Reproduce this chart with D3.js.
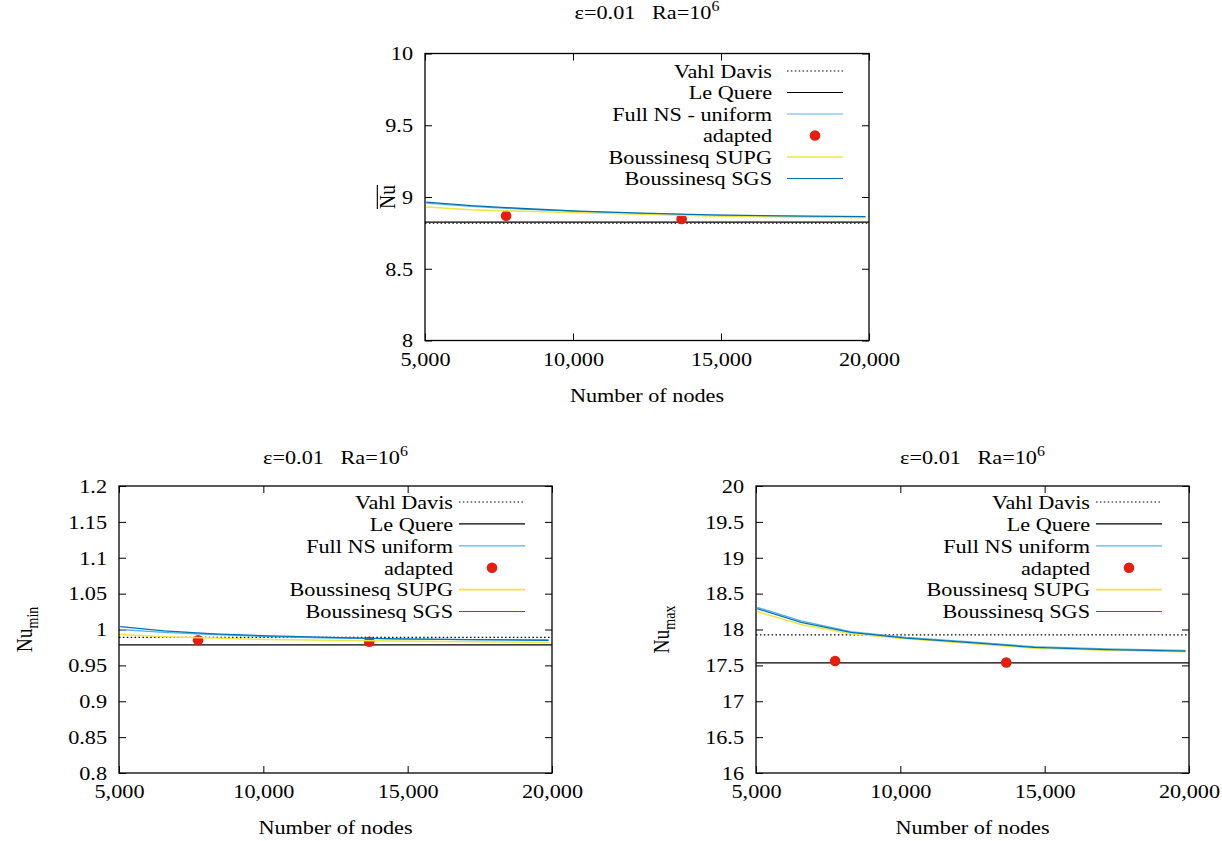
<!DOCTYPE html>
<html><head><meta charset="utf-8">
<script src="https://cdn.jsdelivr.net/npm/d3@7"></script>
<style>
body{margin:0;background:#fff}
</style></head><body>
<svg id="chart" width="1222" height="841"></svg>
<script>
// Uniform grids (n x n nodes) and adapted-mesh node counts
const gridNodes = [5041, 6561, 8281, 10201, 12321, 14641, 17161, 19881];
const adaptedNodes = [7740, 13670];
const xTicks = [5000, 10000, 15000, 20000];

// Average Nusselt number
const nuAvgVahlDavis = 8.817;
const nuAvgLeQuere = 8.825;
const nuAvgFullNS = [8.958, 8.935, 8.915, 8.898, 8.884, 8.872, 8.865, 8.860];
const nuAvgAdapted = [8.870, 8.847];
const nuAvgSUPG = [8.930, 8.912, 8.900, 8.890, 8.880, 8.868, 8.861, 8.856];
const nuAvgSGS = [8.965, 8.940, 8.920, 8.902, 8.888, 8.875, 8.868, 8.863];
const nuAvgTicks = [8, 8.5, 9, 9.5, 10];

// Minimum Nusselt number
const nuMinVahlDavis = 0.989;
const nuMinLeQuere = 0.9787;
const nuMinFullNS = [1.000, 0.996, 0.993, 0.990, 0.988, 0.987, 0.986, 0.985];
const nuMinAdapted = [0.985, 0.983];
const nuMinSUPG = [0.993, 0.990, 0.988, 0.986, 0.985, 0.984, 0.983, 0.982];
const nuMinSGS = [1.004, 0.998, 0.994, 0.991, 0.989, 0.987, 0.986, 0.985];
const nuMinTicks = [0.8, 0.85, 0.9, 0.95, 1, 1.05, 1.1, 1.15, 1.2];

// Maximum Nusselt number
const nuMaxVahlDavis = 17.925;
const nuMaxLeQuere = 17.536;
const nuMaxFullNS = [18.31, 18.12, 17.97, 17.89, 17.83, 17.76, 17.73, 17.71];
const nuMaxAdapted = [17.56, 17.54];
const nuMaxSUPG = [18.25, 18.07, 17.94, 17.87, 17.81, 17.74, 17.71, 17.69];
const nuMaxSGS = [18.29, 18.10, 17.96, 17.88, 17.82, 17.75, 17.72, 17.70];
const nuMaxTicks = [16, 16.5, 17, 17.5, 18, 18.5, 19, 19.5, 20];

const legendNames = ["Vahl Davis", "Le Quere", "Full NS - uniform", "adapted", "Boussinesq SUPG", "Boussinesq SGS"];
const legendNamesShort = ["Vahl Davis", "Le Quere", "Full NS uniform", "adapted", "Boussinesq SUPG", "Boussinesq SGS"];

const colors = {light: "#56b4e9", yellow: "#f0e442", blue: "#0072b2", red: "#e51e10"};

const FONT = '"Liberation Serif", "Times New Roman", serif';
const FS = 19.5;     // base font size
const SX = 1.14;     // horizontal text stretch

const svg = d3.select("#chart");

const panels = [
  {left: 425, top: 53.5, width: 444, height: 287, yTicks: nuAvgTicks,
   vd: nuAvgVahlDavis, lq: nuAvgLeQuere, fns: nuAvgFullNS, ad: nuAvgAdapted, supg: nuAvgSUPG, sgs: nuAvgSGS,
   names: legendNames, titleY: 19, labelX: 395, sub: null, overline: true,
   legTextEnd: 772, legX0: 787, legX1: 843, legY0: 71, legDy: 21.5},
  {left: 119, top: 486, width: 433, height: 287, yTicks: nuMinTicks,
   vd: nuMinVahlDavis, lq: nuMinLeQuere, fns: nuMinFullNS, ad: nuMinAdapted, supg: nuMinSUPG, sgs: nuMinSGS,
   names: legendNamesShort, titleY: 464, labelX: 32, sub: "min", overline: false,
   legTextEnd: 453, legX0: 459, legX1: 525, legY0: 502, legDy: 21.9},
  {left: 756, top: 486, width: 433, height: 287, yTicks: nuMaxTicks,
   vd: nuMaxVahlDavis, lq: nuMaxLeQuere, fns: nuMaxFullNS, ad: nuMaxAdapted, supg: nuMaxSUPG, sgs: nuMaxSGS,
   names: legendNamesShort, titleY: 464, labelX: 669, sub: "max", overline: false,
   legTextEnd: 1090, legX0: 1096, legX1: 1162, legY0: 502, legDy: 21.9}
];

const rotatedLabels = [];

panels.forEach((p, i) => {
  const x = d3.scaleLinear().domain([xTicks[0], xTicks[xTicks.length - 1]]).range([0, p.width]);
  const y = d3.scaleLinear().domain([p.yTicks[0], p.yTicks[p.yTicks.length - 1]]).range([p.height, 0]);
  const g = svg.append("g").attr("transform", `translate(${p.left},${p.top})`);
  const fmt = d => String(+d.toFixed(2));

  g.append("clipPath").attr("id", "clip" + i)
    .append("rect").attr("width", p.width).attr("height", p.height);

  // inward ticks on all four sides
  const ax = (axis, tr) => {
    const a = g.append("g").attr("transform", tr).call(axis);
    a.select(".domain").remove();
    a.selectAll(".tick line").attr("stroke", "#000").attr("stroke-width", 1);
    a.attr("font-size", null).attr("font-family", null);
    return a;
  };
  ax(d3.axisBottom(x).tickValues(xTicks).tickFormat(d3.format(",")).tickSize(-7).tickPadding(11.5), `translate(0,${p.height})`);
  ax(d3.axisTop(x).tickValues(xTicks).tickFormat("").tickSize(-7), "translate(0,0)");
  ax(d3.axisLeft(y).tickValues(p.yTicks).tickFormat(fmt).tickSize(-7).tickPadding(12), "translate(0,0)");
  ax(d3.axisRight(y).tickValues(p.yTicks).tickFormat("").tickSize(-7), `translate(${p.width},0)`);

  const plot = g.append("g").attr("clip-path", `url(#clip${i})`);
  const [x0, x1] = x.domain();

  // reference solutions
  plot.append("line").attr("x1", x(x0)).attr("x2", x(x1)).attr("y1", y(p.vd)).attr("y2", y(p.vd))
    .attr("stroke", "#000").attr("stroke-width", 1.2).attr("stroke-dasharray", "1.5,2.4");
  plot.append("line").attr("x1", x(x0)).attr("x2", x(x1)).attr("y1", y(p.lq)).attr("y2", y(p.lq))
    .attr("stroke", "#000").attr("stroke-width", 1.2);

  const line = d3.line().x((d, k) => x(gridNodes[k])).y(d => y(d));
  plot.append("path").datum(p.fns).attr("d", line).attr("fill", "none").attr("stroke", colors.light).attr("stroke-width", 1.3);

  plot.selectAll("circle.ad").data(p.ad).join("circle").attr("class", "ad")
    .attr("cx", (d, k) => x(adaptedNodes[k])).attr("cy", d => y(d)).attr("r", 5.3).attr("fill", colors.red);

  plot.append("path").datum(p.supg).attr("d", line).attr("fill", "none").attr("stroke", colors.yellow).attr("stroke-width", 1.5);
  plot.append("path").datum(p.sgs).attr("d", line).attr("fill", "none").attr("stroke", colors.blue).attr("stroke-width", 1.3);

  // frame
  g.append("rect").attr("width", p.width).attr("height", p.height)
    .attr("fill", "none").attr("stroke", "#000").attr("stroke-width", 1.3);

  // legend
  const leg = svg.append("g");
  const styles = [
    {stroke: "#000", dash: "1.5,2.4"}, {stroke: "#000"}, {stroke: colors.light},
    {dot: true}, {stroke: colors.yellow, w: 1.6}, {stroke: colors.blue}
  ];
  p.names.forEach((name, k) => {
    const yy = p.legY0 + k * p.legDy;
    leg.append("text").attr("x", p.legTextEnd).attr("y", yy).attr("dy", "0.35em")
      .attr("text-anchor", "end").text(name);
    const s = styles[k];
    if (s.dot) {
      leg.append("circle").attr("cx", (p.legX0 + p.legX1) / 2).attr("cy", yy).attr("r", 5.3).attr("fill", colors.red);
    } else {
      leg.append("line").attr("x1", p.legX0).attr("x2", p.legX1).attr("y1", yy).attr("y2", yy)
        .attr("stroke", s.stroke).attr("stroke-width", s.w || 1.2).attr("stroke-dasharray", s.dash || null);
    }
  });

  // title
  const cx = p.left + p.width / 2;
  const t = svg.append("text").attr("x", cx).attr("y", p.titleY).attr("text-anchor", "middle");
  t.append("tspan").style("white-space", "pre").text("\u03B5=0.01   Ra=10");
  t.append("tspan").attr("dy", -8).attr("data-fs", 14).text("6");

  // x label
  svg.append("text").attr("x", cx).attr("y", p.top + p.height + 61).attr("text-anchor", "middle").text("Number of nodes");

  // y label (rotated)
  const yg = svg.append("g")
    .attr("transform", `translate(${p.labelX},${p.top + p.height / 2}) scale(${SX},1) rotate(-90)`);
  const yl = yg.append("text").attr("class", "rot").attr("text-anchor", "middle");
  const nu = yl.append("tspan").text("Nu");
  if (p.sub) yl.append("tspan").attr("dy", 5).attr("data-fs", 14).text(p.sub);
  if (p.overline) rotatedLabels.push({g: yg, nu});
});

// typography: font on every text node, horizontal stretch for unrotated text
svg.selectAll("text, tspan").each(function () {
  const el = d3.select(this);
  const fs = el.attr("data-fs") || (this.tagName === "text" ? FS : null);
  el.style("font-family", FONT).style("fill", "#000");
  if (fs) el.style("font-size", fs + "px");
});
svg.selectAll("text").filter(function () { return !this.classList.contains("rot"); }).each(function () {
  const el = d3.select(this);
  const x = +el.attr("x") || 0, y = +el.attr("y") || 0;
  el.attr("transform", `translate(${x},${y}) scale(${SX},1)`).attr("x", 0).attr("y", 0);
});

// overline on the mean Nusselt label
rotatedLabels.forEach(({g, nu}) => {
  const w = nu.node().getComputedTextLength();
  g.append("line").attr("x1", -w / 2).attr("x2", w / 2).attr("y1", -15.5).attr("y2", -15.5)
    .attr("stroke", "#000").attr("stroke-width", 1);
});
</script>
</body></html>
